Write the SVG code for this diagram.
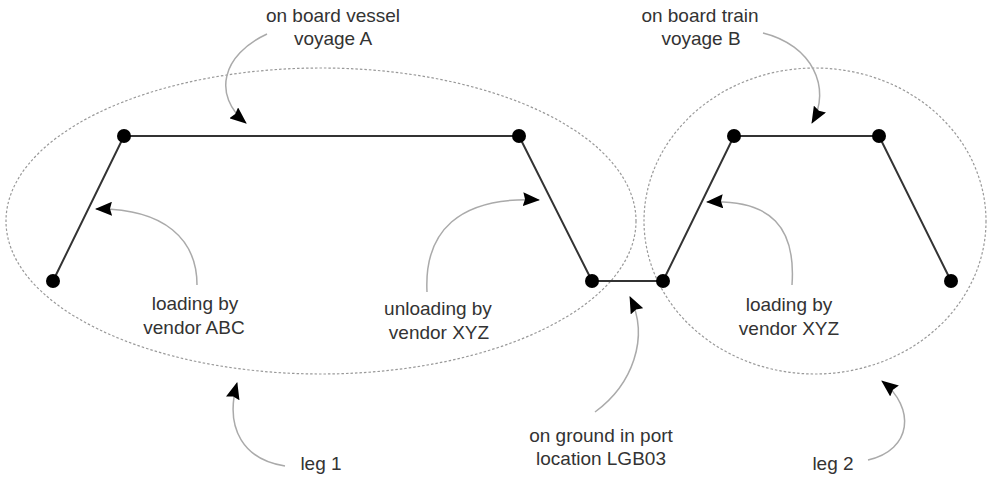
<svg xmlns="http://www.w3.org/2000/svg" width="987" height="477" viewBox="0 0 987 477">
<style>
.t{font-family:"Liberation Sans",Arial,sans-serif;font-size:19px;fill:#333;text-anchor:middle}
.path{fill:none;stroke:#333;stroke-width:2}
.dot{fill:#000}
.ell{fill:none;stroke:#999;stroke-width:1.2;stroke-dasharray:2.5 2}
.call{fill:none;stroke:#aaa;stroke-width:1.5}
</style>
<defs>
<marker id="ah" viewBox="0 0 18 14" refX="16" refY="7" markerWidth="18" markerHeight="14" markerUnits="userSpaceOnUse" orient="auto">
<path d="M0,0 L17,7 L0,14 L2,7 z" fill="#000"/>
</marker>
</defs>
<rect width="987" height="477" fill="#fff"/>
<g id="leg1-boundary"><ellipse class="ell" cx="321" cy="221" rx="315" ry="153"/></g>
<g id="leg2-boundary"><ellipse class="ell" cx="815" cy="221" rx="171" ry="153"/></g>
<g id="connectors">
<polyline class="path" points="53,281 124,136 519,136 592,281 663,281 734,136 879,136 951,281"/>
<path class="call" marker-end="url(#ah)" d="M267,34 C222,55 212,95 246,123"/>
<path class="call" marker-end="url(#ah)" d="M197,285 C197,240 165,208 96,209"/>
<path class="call" marker-end="url(#ah)" d="M427,292 C424,232 458,196 539,200"/>
<path class="call" marker-end="url(#ah)" d="M763,33 C812,45 832,88 812,123"/>
<path class="call" marker-end="url(#ah)" d="M792,285 C796,228 772,199 707,202"/>
<path class="call" marker-end="url(#ah)" d="M595,412 C632,385 650,338 630,297"/>
<path class="call" marker-end="url(#ah)" d="M285,466 C245,460 224,430 237,383"/>
<path class="call" marker-end="url(#ah)" d="M868,460 C912,450 916,408 882,381"/>
</g>
<g id="n1"><circle class="dot" cx="53" cy="281" r="7"/></g>
<g id="n2"><circle class="dot" cx="124" cy="136" r="7"/></g>
<g id="n3"><circle class="dot" cx="519" cy="136" r="7"/></g>
<g id="n4"><circle class="dot" cx="592" cy="281" r="7"/></g>
<g id="n5"><circle class="dot" cx="663" cy="281" r="7"/></g>
<g id="n6"><circle class="dot" cx="734" cy="136" r="7"/></g>
<g id="n7"><circle class="dot" cx="879" cy="136" r="7"/></g>
<g id="n8"><circle class="dot" cx="951" cy="281" r="7"/></g>
<g id="label-vessel"><text class="t" x="333" y="22">on board vessel</text><text class="t" x="333" y="45">voyage A</text></g>
<g id="label-train"><text class="t" x="700" y="22">on board train</text><text class="t" x="701" y="45">voyage B</text></g>
<g id="label-loadABC"><text class="t" x="195" y="310">loading by</text><text class="t" x="194" y="334">vendor ABC</text></g>
<g id="label-unloadXYZ"><text class="t" x="438" y="315">unloading by</text><text class="t" x="439" y="339">vendor XYZ</text></g>
<g id="label-loadXYZ"><text class="t" x="789" y="311">loading by</text><text class="t" x="789" y="335">vendor XYZ</text></g>
<g id="label-ground"><text class="t" x="601" y="442">on ground in port</text><text class="t" x="601" y="465">location LGB03</text></g>
<g id="label-leg1"><text class="t" x="321" y="470">leg 1</text></g>
<g id="label-leg2"><text class="t" x="833" y="470">leg 2</text></g>
</svg>
